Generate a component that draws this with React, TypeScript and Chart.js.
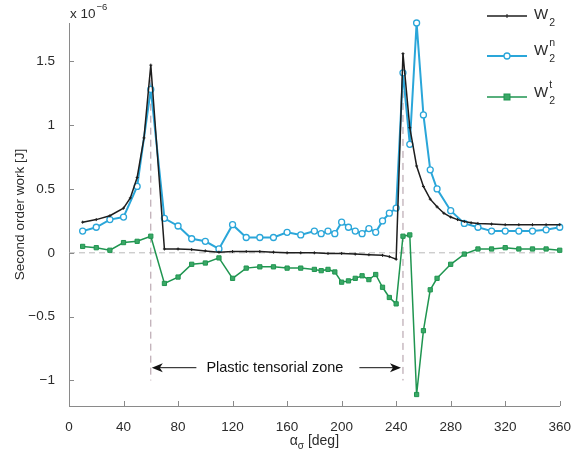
import React, { useEffect, useRef } from "react";
import { Chart, registerables } from "chart.js";

Chart.register(...registerables);

// ---------- data ----------
const anglesW2 = [10, 20, 30, 40, 45, 50, 55, 60, 70, 80, 90, 100, 110, 120, 130, 140, 150, 160, 170, 180, 190, 200, 210, 220, 230, 235, 240, 245, 250, 255, 260, 265, 270, 275, 280, 285, 290, 295, 300, 310, 320, 330, 340, 350, 360];
const valuesW2 = [0.24, 0.26, 0.29, 0.35, 0.43, 0.59, 0.9, 1.47, 0.03, 0.03, 0.025, 0.015, 0.005, 0.01, 0.01, 0.01, 0.005, 0.0, 0.0, 0.0, -0.005, -0.005, -0.01, -0.015, -0.02, -0.03, -0.05, 1.56, 0.98, 0.68, 0.52, 0.42, 0.36, 0.31, 0.28, 0.26, 0.245, 0.235, 0.23, 0.225, 0.22, 0.22, 0.22, 0.22, 0.22];

const anglesComp = [10, 20, 30, 40, 50, 60, 70, 80, 90, 100, 110, 120, 130, 140, 150, 160, 170, 180, 185, 190, 195, 200, 205, 210, 215, 220, 225, 230, 235, 240, 245, 250, 255, 260, 265, 270, 280, 290, 300, 310, 320, 330, 340, 350, 360];
const valuesW2n = [0.17, 0.2, 0.26, 0.28, 0.52, 1.28, 0.27, 0.21, 0.11, 0.09, 0.03, 0.22, 0.12, 0.12, 0.12, 0.16, 0.14, 0.17, 0.15, 0.17, 0.15, 0.24, 0.2, 0.17, 0.15, 0.19, 0.16, 0.25, 0.31, 0.35, 1.41, 0.85, 1.8, 1.08, 0.65, 0.5, 0.33, 0.23, 0.2, 0.17, 0.17, 0.17, 0.17, 0.18, 0.2];
const valuesW2t = [0.05, 0.04, 0.02, 0.08, 0.09, 0.13, -0.24, -0.19, -0.09, -0.08, -0.04, -0.2, -0.12, -0.11, -0.11, -0.12, -0.12, -0.13, -0.14, -0.13, -0.15, -0.23, -0.22, -0.2, -0.18, -0.21, -0.17, -0.27, -0.35, -0.4, 0.13, 0.14, -1.11, -0.61, -0.29, -0.2, -0.09, -0.01, 0.03, 0.03, 0.04, 0.03, 0.03, 0.03, 0.02];

const xTicks = [0, 40, 80, 120, 160, 200, 240, 280, 320, 360];
const yTicks = [-1, -0.5, 0, 0.5, 1, 1.5];
const yTickLabels = ["\u22121", "\u22120.5", "0", "0.5", "1", "1.5"];

const zoneStart = 60;
const zoneEnd = 245;
const zoneStartTop = 1.45;
const zoneEndTop = 1.55;
const zoneBottom = -1.0;
const zoneArrowY = -0.9;
const zoneLabel = "Plastic tensorial zone";
const yTitle = "Second order work [J]";
const xTitleMain = "\u03b1";
const xTitleSub = "\u03c3";
const xTitleRest = " [deg]";
const expBase = "x 10";
const expPower = "\u22126";

const COL_W2 = "#1e1e1e";
const COL_N = "#2aa6d9";
const COL_T = "#1f9550";
const FONT = '"Liberation Sans", Arial, Helvetica, sans-serif';
const TXT = "#2b2b2b";
const AXIS = "#8a8a8a";

function arrowHead(ctx: CanvasRenderingContext2D, tipX: number, y: number, dir: number) {
  const L = 11;
  const W = 4.5;
  ctx.beginPath();
  ctx.moveTo(tipX, y);
  ctx.lineTo(tipX + dir * L, y - W);
  ctx.lineTo(tipX + dir * (L - 3), y);
  ctx.lineTo(tipX + dir * L, y + W);
  ctx.closePath();
  ctx.fill();
}

const overlay = {
  id: "overlay",
  beforeDatasetsDraw(chart: any) {
    const { ctx, chartArea } = chart;
    const x = chart.scales.x;
    const y = chart.scales.y;
    ctx.save();
    ctx.lineWidth = 1;
    ctx.setLineDash([6, 4]);
    ctx.strokeStyle = "#b9b9b9";
    const y0 = y.getPixelForValue(0);
    ctx.beginPath();
    ctx.moveTo(chartArea.left, y0);
    ctx.lineTo(chartArea.right, y0);
    ctx.stroke();
    ctx.strokeStyle = "#ad97a2";
    ctx.setLineDash([7, 5]);
    const lines: [number, number][] = [
      [zoneStart, zoneStartTop],
      [zoneEnd, zoneEndTop],
    ];
    for (const [a, top] of lines) {
      const px = x.getPixelForValue(a);
      ctx.beginPath();
      ctx.moveTo(px, y.getPixelForValue(top));
      ctx.lineTo(px, y.getPixelForValue(zoneBottom));
      ctx.stroke();
    }
    ctx.restore();
  },
  afterDraw(chart: any) {
    const { ctx, chartArea } = chart;
    const x = chart.scales.x;
    const y = chart.scales.y;
    ctx.save();
    // inward ticks
    ctx.strokeStyle = AXIS;
    ctx.lineWidth = 1;
    ctx.setLineDash([]);
    for (const v of xTicks) {
      const px = Math.round(x.getPixelForValue(v)) + 0.5;
      ctx.beginPath();
      ctx.moveTo(px, chartArea.bottom);
      ctx.lineTo(px, chartArea.bottom - 5);
      ctx.stroke();
    }
    for (const v of yTicks) {
      const py = Math.round(y.getPixelForValue(v)) + 0.5;
      ctx.beginPath();
      ctx.moveTo(chartArea.left, py);
      ctx.lineTo(chartArea.left + 5, py);
      ctx.stroke();
    }

    // zone annotation
    const ay = y.getPixelForValue(zoneArrowY);
    const xs = x.getPixelForValue(zoneStart);
    const xe = x.getPixelForValue(zoneEnd);
    ctx.font = `14.5px ${FONT}`;
    ctx.fillStyle = "#111";
    ctx.textAlign = "center";
    ctx.textBaseline = "middle";
    const tw = ctx.measureText(zoneLabel).width;
    const cx = (xs + xe) / 2 - 2;
    ctx.fillText(zoneLabel, cx, ay);
    ctx.strokeStyle = "#111";
    ctx.lineWidth = 1;
    ctx.beginPath();
    ctx.moveTo(xs + 4, ay);
    ctx.lineTo(cx - tw / 2 - 10, ay);
    ctx.moveTo(cx + tw / 2 + 16, ay);
    ctx.lineTo(xe - 4, ay);
    ctx.stroke();
    arrowHead(ctx, xs + 1, ay, 1);
    arrowHead(ctx, xe - 2, ay, -1);

    // exponent label
    ctx.fillStyle = TXT;
    ctx.textAlign = "left";
    ctx.textBaseline = "alphabetic";
    ctx.font = `13.5px ${FONT}`;
    ctx.fillText(expBase, chartArea.left + 1, 18);
    const bw = ctx.measureText(expBase).width;
    ctx.font = `9.5px ${FONT}`;
    ctx.fillText(expPower, chartArea.left + 2 + bw, 10);

    // y title
    ctx.save();
    ctx.translate(20, (chartArea.top + chartArea.bottom) / 2);
    ctx.rotate(-Math.PI / 2);
    ctx.font = `13.5px ${FONT}`;
    ctx.textAlign = "center";
    ctx.textBaseline = "middle";
    ctx.fillText(yTitle, 0, 0);
    ctx.restore();

    // x title
    ctx.font = `14px ${FONT}`;
    ctx.textBaseline = "alphabetic";
    ctx.textAlign = "left";
    const w1 = ctx.measureText(xTitleMain).width;
    ctx.font = `10px ${FONT}`;
    const w2 = ctx.measureText(xTitleSub).width;
    ctx.font = `14px ${FONT}`;
    const w3 = ctx.measureText(xTitleRest).width;
    const total = w1 + w2 + w3;
    let tx = (chartArea.left + chartArea.right) / 2 - total / 2;
    const tby = 445;
    ctx.fillText(xTitleMain, tx, tby);
    tx += w1;
    ctx.font = `10px ${FONT}`;
    ctx.fillText(xTitleSub, tx, tby + 4);
    tx += w2;
    ctx.font = `14px ${FONT}`;
    ctx.fillText(xTitleRest, tx, tby);

    // legend
    const lx0 = 487;
    const lx1 = 527;
    const mx = 507;
    const entries = [
      { lineY: 16, base: 19, color: COL_W2, sup: "", kind: "cross" },
      { lineY: 56, base: 55, color: COL_N, sup: "n", kind: "circle" },
      { lineY: 97, base: 97, color: COL_T, sup: "t", kind: "square" },
    ];
    for (const e of entries) {
      ctx.strokeStyle = e.color;
      ctx.lineWidth = e.kind === "circle" ? 2 : 1.5;
      ctx.beginPath();
      ctx.moveTo(lx0, e.lineY);
      ctx.lineTo(lx1, e.lineY);
      ctx.stroke();
      if (e.kind === "circle") {
        ctx.fillStyle = "#fff";
        ctx.lineWidth = 1.3;
        ctx.beginPath();
        ctx.arc(mx, e.lineY, 3, 0, Math.PI * 2);
        ctx.fill();
        ctx.stroke();
      } else if (e.kind === "square") {
        ctx.fillStyle = "#3aa866";
        ctx.fillRect(mx - 3, e.lineY - 3, 6, 6);
        ctx.lineWidth = 1;
        ctx.strokeRect(mx - 3, e.lineY - 3, 6, 6);
      } else {
        ctx.lineWidth = 1;
        ctx.beginPath();
        ctx.moveTo(mx, e.lineY - 2);
        ctx.lineTo(mx, e.lineY + 2);
        ctx.stroke();
      }
      ctx.fillStyle = TXT;
      ctx.font = `15px ${FONT}`;
      ctx.textAlign = "left";
      ctx.textBaseline = "alphabetic";
      ctx.fillText("W", 534, e.base);
      const ww = ctx.measureText("W").width;
      ctx.font = `10.5px ${FONT}`;
      ctx.fillText("2", 534 + ww + 1, e.base + 7);
      if (e.sup) ctx.fillText(e.sup, 534 + ww + 1, e.base - 9);
    }
    ctx.restore();
  },
};

export default function App() {
  const ref = useRef<HTMLCanvasElement | null>(null);
  useEffect(() => {
    document.body.style.margin = "0";
    const canvas = ref.current;
    if (!canvas) return;
    const toPts = (xs: number[], ys: number[]) => xs.map((a, i) => ({ x: a, y: ys[i] }));
    const chart = new Chart(canvas, {
      type: "line",
      data: {
        datasets: [
          {
            label: "W2t",
            data: toPts(anglesComp, valuesW2t),
            borderColor: COL_T,
            borderWidth: 1.5,
            pointStyle: "rect",
            pointRadius: 3,
            pointBackgroundColor: "#3aa866",
            pointBorderColor: COL_T,
            pointBorderWidth: 1,
            tension: 0,
            clip: false,
          } as any,
          {
            label: "W2",
            data: toPts(anglesW2, valuesW2),
            borderColor: COL_W2,
            borderWidth: 1.5,
            pointStyle: "cross",
            pointRadius: 1.5,
            pointBorderColor: COL_W2,
            pointBorderWidth: 1,
            tension: 0,
            clip: false,
          } as any,
          {
            label: "W2n",
            data: toPts(anglesComp, valuesW2n),
            borderColor: COL_N,
            borderWidth: 2,
            pointStyle: "circle",
            pointRadius: 3,
            pointBackgroundColor: "#ffffff",
            pointBorderColor: COL_N,
            pointBorderWidth: 1.3,
            tension: 0,
            clip: false,
          } as any,
        ],
      },
      options: {
        animation: false,
        responsive: false,
        maintainAspectRatio: false,
        layout: { padding: { top: 23, right: 13, left: 0, bottom: 0 } },
        plugins: { legend: { display: false }, tooltip: { enabled: false } },
        scales: {
          x: {
            type: "linear",
            min: 0,
            max: 360,
            grid: { display: false },
            border: { display: true, color: AXIS, width: 1 },
            ticks: {
              padding: 5,
              color: TXT,
              font: { family: FONT, size: 13.5 },
              maxRotation: 0,
              autoSkip: false,
            },
            afterBuildTicks: (s: any) => {
              s.ticks = xTicks.map((v) => ({ value: v }));
            },
            afterFit: (s: any) => {
              s.height = 50;
            },
          },
          y: {
            type: "linear",
            min: -1.2,
            max: 1.8,
            grid: { display: false },
            border: { display: true, color: AXIS, width: 1 },
            ticks: {
              padding: 6,
              color: TXT,
              font: { family: FONT, size: 13.5 },
              callback: (v: any) => {
                const i = yTicks.indexOf(Number(v));
                return i >= 0 ? yTickLabels[i] : "";
              },
            },
            afterBuildTicks: (s: any) => {
              s.ticks = yTicks.map((v) => ({ value: v }));
            },
            afterFit: (s: any) => {
              s.width = 69;
            },
          },
        },
      },
      plugins: [overlay],
    } as any);
    return () => chart.destroy();
  }, []);
  return (
    <div style={{ width: 576, height: 456 }}>
      <canvas ref={ref} width={576} height={456} style={{ display: "block" }} />
    </div>
  );
}
